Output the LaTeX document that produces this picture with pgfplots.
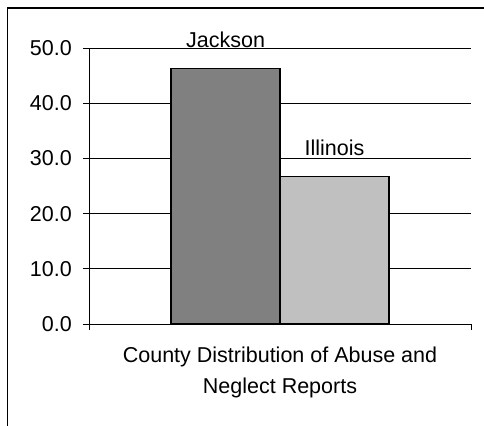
\documentclass[border=0pt]{standalone}
\usepackage{fontspec}
\setmainfont{Liberation Sans}
\usepackage{pgfplots}
\pgfplotsset{compat=1.18}

\begin{document}
\begin{tikzpicture}
  \path[use as bounding box] (0,0) rectangle (484bp,426bp);
  % chart frame (only its top and left edges are inside the picture)
  \draw[line width=1.5bp] (7.5bp,-10bp) -- (7.5bp,418bp) -- (500bp,418bp);

  \begin{axis}[
    at={(89bp,102bp)}, anchor=south west,
    scale only axis,
    width=382bp, height=276bp,
    xmin=0, xmax=1, ymin=0, ymax=50,
    axis x line*=bottom, axis y line*=left,
    axis line style={line width=1bp},
    xtick={0,1}, xticklabels={},
    ytick={0,10,...,50},
    tick align=outside, major tick length=6bp,
    tick style={line width=1bp, black},
    ymajorgrids,
    grid style={line width=1bp, black},
    font=\fontsize{21.5bp}{31bp}\selectfont,
    /pgf/number format/assume math mode=true,
    /pgf/number format/.cd, fixed, fixed zerofill, precision=1, /pgfplots/.cd,
    yticklabel style={inner sep=0pt, xshift=-11bp},
    xlabel={County Distribution of Abuse and\\Neglect Reports},
    xlabel style={at={(axis description cs:0.5,0)}, anchor=north,
      inner sep=0pt, yshift=-23bp, align=center},
    ybar, bar width=0.285, bar shift=0pt,
    nodes near coords align={vertical},
    every node near coord/.append style={inner sep=0pt, yshift=20bp, black},
  ]
    % Jackson
    \addplot[draw=black, line width=1.3bp, fill={rgb,255:red,128;green,128;blue,128},
      nodes near coords={Jackson}] coordinates {(0.3575,46.3)};
    % Illinois
    \addplot[draw=black, line width=1.3bp, fill={rgb,255:red,192;green,192;blue,192},
      nodes near coords={Illinois}] coordinates {(0.6425,26.7)};
  \end{axis}
\end{tikzpicture}
\end{document}
